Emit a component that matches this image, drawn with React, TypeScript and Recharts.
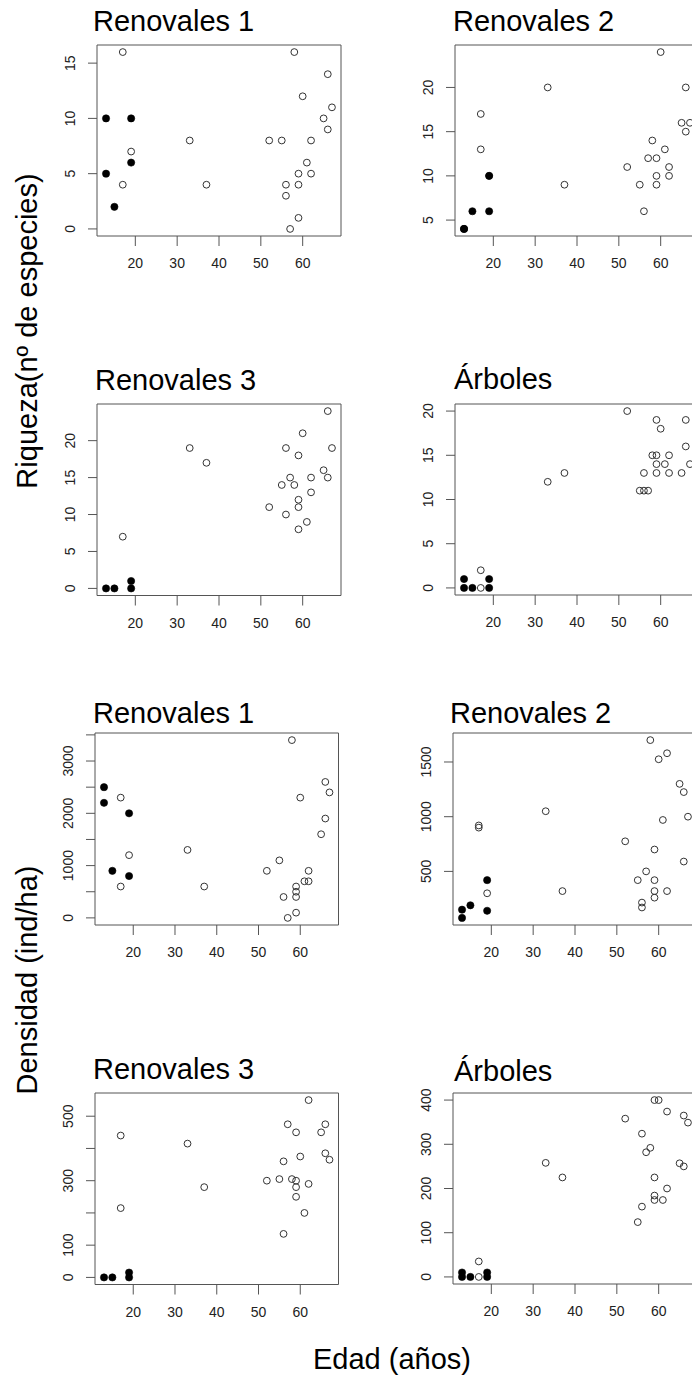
import React from 'react';
import { ScatterChart, Scatter, XAxis, YAxis, ReferenceArea } from 'recharts';

const FONT = '"Liberation Sans", Arial, Helvetica, sans-serif';

type Pt = [number, number];

// Edad (años) axis
const xDomain: [number, number] = [10.84, 69.16];
const xTicks = [20, 30, 40, 50, 60];

// Riqueza - Renovales 1
const riqR1Filled: Pt[] = [[13, 10], [13, 5], [15, 2], [19, 10], [19, 6]];
const riqR1Open: Pt[] = [[17, 16], [17, 4], [19, 7], [33, 8], [37, 4], [52, 8], [55, 8], [56, 4], [56, 3], [57, 0], [58, 16], [59, 5], [59, 4], [59, 1], [60, 12], [61, 6], [62, 8], [62, 5], [65, 10], [66, 14], [66, 9], [67, 11]];
const riqR1Ticks = [0, 5, 10, 15];

// Riqueza - Renovales 2
const riqR2Filled: Pt[] = [[13, 4], [13, 4], [15, 6], [19, 6], [19, 10]];
const riqR2Open: Pt[] = [[17, 17], [17, 13], [19, 10], [33, 20], [37, 9], [52, 11], [55, 9], [56, 6], [57, 12], [58, 14], [59, 12], [59, 10], [59, 9], [60, 24], [61, 13], [62, 11], [62, 10], [65, 16], [66, 20], [66, 15], [67, 16]];
const riqR2Ticks = [5, 10, 15, 20];

// Riqueza - Renovales 3
const riqR3Filled: Pt[] = [[13, 0], [15, 0], [19, 0], [19, 1]];
const riqR3Open: Pt[] = [[17, 7], [33, 19], [37, 17], [52, 11], [55, 14], [56, 19], [56, 10], [57, 15], [58, 14], [59, 18], [59, 12], [59, 11], [59, 8], [60, 21], [61, 9], [62, 15], [62, 13], [65, 16], [66, 24], [66, 15], [67, 19]];
const riqR3Ticks = [0, 5, 10, 15, 20];

// Riqueza - Árboles
const riqArbFilled: Pt[] = [[13, 1], [13, 0], [15, 0], [19, 1], [19, 0]];
const riqArbOpen: Pt[] = [[17, 2], [17, 0], [33, 12], [37, 13], [52, 20], [55, 11], [56, 13], [56, 11], [57, 11], [58, 15], [59, 19], [59, 15], [59, 14], [59, 13], [60, 18], [61, 14], [62, 15], [62, 13], [65, 13], [66, 19], [66, 16], [67, 14]];
const riqArbTicks = [0, 5, 10, 15, 20];

// Densidad - Renovales 1
const densR1Filled: Pt[] = [[13, 2500], [13, 2200], [15, 900], [19, 2000], [19, 800]];
const densR1Open: Pt[] = [[17, 2300], [17, 600], [19, 1200], [33, 1300], [37, 600], [52, 900], [55, 1100], [56, 400], [57, 0], [58, 3400], [59, 600], [59, 500], [59, 400], [59, 100], [60, 2300], [61, 700], [62, 700], [62, 900], [65, 1600], [66, 2600], [66, 1900], [67, 2400]];
const densR1Ticks = [0, 500, 1000, 1500, 2000, 2500, 3000, 3500];
const densR1Labels = [0, 1000, 2000, 3000];

// Densidad - Renovales 2
const densR2Filled: Pt[] = [[13, 150], [13, 75], [15, 190], [19, 420], [19, 140]];
const densR2Open: Pt[] = [[17, 920], [17, 900], [19, 300], [33, 1050], [37, 320], [52, 775], [55, 420], [56, 215], [56, 170], [57, 500], [58, 1700], [59, 700], [59, 420], [59, 320], [59, 260], [60, 1525], [61, 970], [62, 1580], [62, 320], [65, 1300], [66, 1225], [66, 590], [67, 1000]];
const densR2Ticks = [500, 1000, 1500];

// Densidad - Renovales 3
const densR3Filled: Pt[] = [[13, 0], [15, 0], [19, 15], [19, 0]];
const densR3Open: Pt[] = [[17, 440], [17, 215], [33, 415], [37, 280], [52, 300], [55, 305], [56, 360], [56, 135], [57, 475], [58, 305], [59, 450], [59, 300], [59, 280], [59, 250], [60, 375], [61, 200], [62, 550], [62, 290], [65, 450], [66, 475], [66, 385], [67, 365]];
const densR3Ticks = [0, 100, 200, 300, 400, 500];
const densR3Labels = [0, 100, 300, 500];

// Densidad - Árboles
const densArbFilled: Pt[] = [[13, 10], [13, 0], [15, 0], [19, 10], [19, 0]];
const densArbOpen: Pt[] = [[17, 35], [17, 0], [33, 258], [37, 225], [52, 358], [55, 124], [56, 324], [56, 159], [57, 282], [58, 292], [59, 400], [59, 225], [59, 184], [59, 174], [60, 400], [61, 174], [62, 374], [62, 200], [65, 257], [66, 365], [66, 250], [67, 349]];
const densArbTicks = [0, 100, 200, 300, 400];

const toObj = (arr: Pt[]) => arr.map(([edad, valor]) => ({ edad, valor }));

const OpenDot = (p: any) =>
  p.cx == null ? null : <circle cx={p.cx} cy={p.cy} r={3.4} fill="none" stroke="#333" strokeWidth={1} />;
const FilledDot = (p: any) =>
  p.cx == null ? null : <circle cx={p.cx} cy={p.cy} r={3.6} fill="#000" stroke="#000" strokeWidth={0.6} />;

const XTick = (p: any) => (
  <text x={p.x} y={p.y + 22} textAnchor="middle" fontSize={14} fontFamily={FONT} fill="#222">
    {p.payload.value}
  </text>
);

const makeYTick = (labels: number[]) => (p: any) => {
  if (!labels.includes(p.payload.value)) return <g />;
  const bx = p.x - 13;
  return (
    <text x={bx} y={p.y} transform={`rotate(-90 ${bx} ${p.y})`} textAnchor="middle" fontSize={14} fontFamily={FONT} fill="#222">
      {p.payload.value}
    </text>
  );
};

type PanelProps = {
  left: number;
  top: number;
  plotW: number;
  plotH: number;
  yDomain: [number, number];
  yTicks: number[];
  yLabels?: number[];
  open: Pt[];
  filled: Pt[];
};

function Panel({ left, top, plotW, plotH, yDomain, yTicks, yLabels, open, filled }: PanelProps) {
  const ML = 70, MT = 10, MR = 10, XH = 45;
  return (
    <div style={{ position: 'absolute', left: left - ML, top: top - MT }}>
      <ScatterChart width={ML + plotW + MR} height={MT + plotH + XH} margin={{ top: MT, right: MR, bottom: 0, left: 0 }}>
        <XAxis
          type="number"
          dataKey="edad"
          domain={xDomain}
          allowDataOverflow
          ticks={xTicks}
          interval={0}
          axisLine={false}
          tickLine={{ stroke: '#555' }}
          tickSize={10}
          tickMargin={0}
          height={XH}
          tick={<XTick />}
        />
        <YAxis
          type="number"
          dataKey="valor"
          domain={yDomain}
          allowDataOverflow
          ticks={yTicks}
          interval={0}
          axisLine={false}
          tickLine={{ stroke: '#555' }}
          tickSize={9}
          tickMargin={0}
          width={ML}
          tick={makeYTick(yLabels ?? yTicks)}
        />
        <ReferenceArea
          x1={xDomain[0]}
          x2={xDomain[1]}
          y1={yDomain[0]}
          y2={yDomain[1]}
          fill="none"
          fillOpacity={0}
          stroke="#555"
          strokeWidth={1}
          ifOverflow="visible"
        />
        <Scatter data={toObj(open)} shape={OpenDot} isAnimationActive={false} />
        <Scatter data={toObj(filled)} shape={FilledDot} isAnimationActive={false} />
      </ScatterChart>
    </div>
  );
}

const titles: { text: string; x: number; y: number }[] = [
  { text: 'Renovales 1', x: 93, y: 31 },
  { text: 'Renovales 2', x: 453, y: 31 },
  { text: 'Renovales 3', x: 95, y: 390 },
  { text: 'Árboles', x: 454, y: 389 },
  { text: 'Renovales 1', x: 93, y: 723 },
  { text: 'Renovales 2', x: 450, y: 723 },
  { text: 'Renovales 3', x: 93, y: 1079 },
  { text: 'Árboles', x: 454, y: 1081 },
];

export default function App() {
  return (
    <div
      style={{
        position: 'absolute',
        left: 0,
        top: 0,
        width: 692,
        height: 1384,
        overflow: 'hidden',
        background: '#fff',
        fontFamily: FONT,
      }}
    >
      <Panel left={96.7} top={45} plotW={244} plotH={191} yDomain={[-0.64, 16.64]} yTicks={riqR1Ticks} open={riqR1Open} filled={riqR1Filled} />
      <Panel left={455} top={45} plotW={244} plotH={191} yDomain={[3.2, 24.8]} yTicks={riqR2Ticks} open={riqR2Open} filled={riqR2Filled} />
      <Panel left={96.7} top={403.5} plotW={244} plotH={191.5} yDomain={[-0.96, 24.96]} yTicks={riqR3Ticks} open={riqR3Open} filled={riqR3Filled} />
      <Panel left={455} top={404} plotW={244} plotH={191} yDomain={[-0.8, 20.8]} yTicks={riqArbTicks} open={riqArbOpen} filled={riqArbFilled} />
      <Panel left={95} top={733} plotW={243.5} plotH={192} yDomain={[-136, 3536]} yTicks={densR1Ticks} yLabels={densR1Labels} open={densR1Open} filled={densR1Filled} />
      <Panel left={453.4} top={733} plotW={244} plotH={192} yDomain={[10, 1765]} yTicks={densR2Ticks} open={densR2Open} filled={densR2Filled} />
      <Panel left={95} top={1093} plotW={243.5} plotH={191.5} yDomain={[-22, 572]} yTicks={densR3Ticks} yLabels={densR3Labels} open={densR3Open} filled={densR3Filled} />
      <Panel left={453.4} top={1093} plotW={244} plotH={191} yDomain={[-16, 416]} yTicks={densArbTicks} open={densArbOpen} filled={densArbFilled} />
      <svg
        width={692}
        height={1384}
        style={{ position: 'absolute', left: 0, top: 0, pointerEvents: 'none' }}
      >
        {titles.map((t, i) => (
          <text key={i} x={t.x} y={t.y} fontSize={29} fontFamily={FONT} fill="#000">
            {t.text}
          </text>
        ))}
        <text x={37} y={331} transform="rotate(-90 37 331)" textAnchor="middle" fontSize={29} fontFamily={FONT} fill="#000">
          Riqueza(nº de especies)
        </text>
        <text x={37} y={980} transform="rotate(-90 37 980)" textAnchor="middle" fontSize={29} fontFamily={FONT} fill="#000">
          Densidad (ind/ha)
        </text>
        <text x={392} y={1369} textAnchor="middle" fontSize={29} fontFamily={FONT} fill="#000">
          Edad (años)
        </text>
      </svg>
    </div>
  );
}
